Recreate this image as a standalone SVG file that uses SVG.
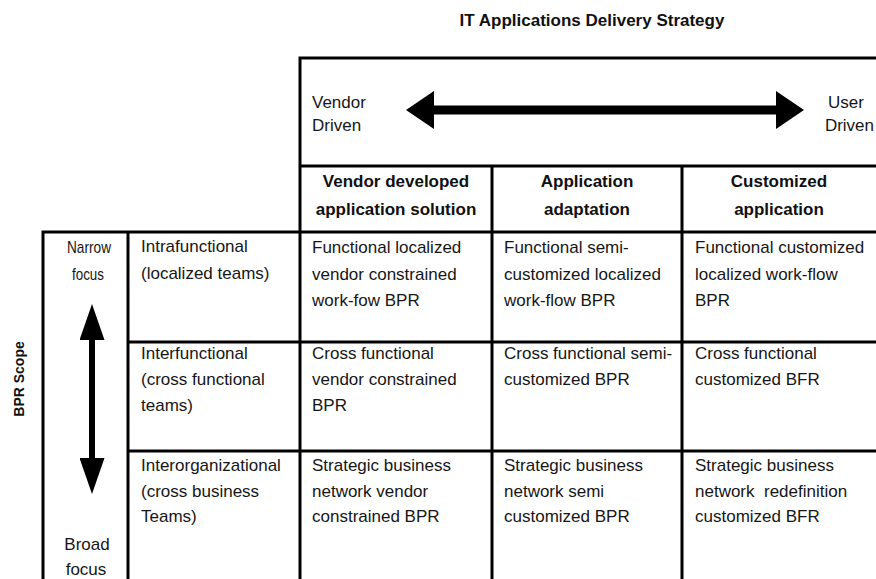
<svg xmlns="http://www.w3.org/2000/svg" width="876" height="579" viewBox="0 0 876 579">
<style>
  text { font-family: "Liberation Sans", Arial, sans-serif; fill: #161616; }
  .t { font-size: 17px; }
  .h { font-size: 17px; font-weight: bold; text-anchor: middle; fill: #111; }
  .ttl { font-size: 17px; font-weight: bold; text-anchor: middle; fill: #111; }
  .lbl { font-size: 17px; text-anchor: middle; }
  .grid { stroke: #000; stroke-width: 3; fill: none; }
  .arrowH { stroke: #000; stroke-width: 9; fill: none; }
  .arrowV { stroke: #000; stroke-width: 6; fill: none; }
</style>
<defs>
  <marker id="headH" markerUnits="userSpaceOnUse" viewBox="0 0 28 38" markerWidth="28" markerHeight="38" refX="2" refY="19" orient="auto-start-reverse">
    <path d="M0,0 L28,19 L0,38 z" fill="#000"/>
  </marker>
  <marker id="headV" markerUnits="userSpaceOnUse" viewBox="0 0 36 25" markerWidth="36" markerHeight="25" refX="2" refY="12.5" orient="auto-start-reverse">
    <path d="M0,0 L36,12.5 L0,25 z" fill="#000"/>
  </marker>
</defs>
<rect width="876" height="579" fill="#fff"/>

<g id="title">
  <text class="ttl" x="592" y="26">IT Applications Delivery Strategy</text>
</g>

<g id="frame">
  <path class="grid" d="M300,579 V58 H876"/>
  <path class="grid" d="M300,166 H876"/>
  <path class="grid" d="M43,579 V232 H876"/>
  <path class="grid" d="M128,232 V579"/>
  <path class="grid" d="M492,166 V579 M682,166 V579"/>
  <path class="grid" d="M128,342 H876 M128,451 H876"/>
</g>

<g id="scope-label">
  <text transform="translate(24,379) rotate(-90)" style="font-size:14px;font-weight:bold;text-anchor:middle;fill:#111">BPR Scope</text>
</g>

<g id="vendor-driven">
  <text class="t" x="312" y="108">Vendor</text>
  <text class="t" x="312" y="131">Driven</text>
</g>
<g id="user-driven">
  <text class="t" x="864" y="108" text-anchor="end">User</text>
  <text class="t" x="874" y="131" text-anchor="end">Driven</text>
</g>

<g id="hdr-vendor">
  <text class="h" x="396" y="187">Vendor developed</text>
  <text class="h" x="396" y="215">application solution</text>
</g>
<g id="hdr-adapt">
  <text class="h" x="587" y="187">Application</text>
  <text class="h" x="587" y="215">adaptation</text>
</g>
<g id="hdr-custom">
  <text class="h" x="779" y="187">Customized</text>
  <text class="h" x="779" y="215">application</text>
</g>

<g id="narrow-focus">
  <text class="lbl" x="89" y="253" textLength="44" lengthAdjust="spacingAndGlyphs">Narrow</text>
  <text class="lbl" x="88" y="280" textLength="32" lengthAdjust="spacingAndGlyphs">focus</text>
</g>
<g id="broad-focus">
  <text class="lbl" x="87" y="550">Broad</text>
  <text class="lbl" x="86" y="575">focus</text>
</g>

<g id="row-intra">
  <text class="t" x="141" y="252">Intrafunctional</text>
  <text class="t" x="141" y="279">(localized teams)</text>
</g>
<g id="row-inter">
  <text class="t" x="141" y="359">Interfunctional</text>
  <text class="t" x="141" y="385">(cross functional</text>
  <text class="t" x="141" y="411">teams)</text>
</g>
<g id="row-interorg">
  <text class="t" x="141" y="471">Interorganizational</text>
  <text class="t" x="141" y="497">(cross business</text>
  <text class="t" x="141" y="522">Teams)</text>
</g>

<g id="c11">
  <text class="t" x="312" y="253">Functional localized</text>
  <text class="t" x="312" y="280">vendor constrained</text>
  <text class="t" x="312" y="306">work-fow BPR</text>
</g>
<g id="c12">
  <text class="t" x="504" y="253">Functional semi-</text>
  <text class="t" x="504" y="280">customized localized</text>
  <text class="t" x="504" y="306">work-flow BPR</text>
</g>
<g id="c13">
  <text class="t" x="695" y="253">Functional customized</text>
  <text class="t" x="695" y="280">localized work-flow</text>
  <text class="t" x="695" y="306">BPR</text>
</g>

<g id="c21">
  <text class="t" x="312" y="359">Cross functional</text>
  <text class="t" x="312" y="385">vendor constrained</text>
  <text class="t" x="312" y="411">BPR</text>
</g>
<g id="c22">
  <text class="t" x="504" y="359">Cross functional semi-</text>
  <text class="t" x="504" y="385">customized BPR</text>
</g>
<g id="c23">
  <text class="t" x="695" y="359">Cross functional</text>
  <text class="t" x="695" y="385">customized BFR</text>
</g>

<g id="c31">
  <text class="t" x="312" y="471">Strategic business</text>
  <text class="t" x="312" y="497">network vendor</text>
  <text class="t" x="312" y="522">constrained BPR</text>
</g>
<g id="c32">
  <text class="t" x="504" y="471">Strategic business</text>
  <text class="t" x="504" y="497">network semi</text>
  <text class="t" x="504" y="522">customized BPR</text>
</g>
<g id="c33">
  <text class="t" x="695" y="471">Strategic business</text>
  <text class="t" x="695" y="497" xml:space="preserve">network  redefinition</text>
  <text class="t" x="695" y="522">customized BFR</text>
</g>

<g id="connectors">
  <line class="arrowH" x1="432" y1="110" x2="778" y2="110" marker-start="url(#headH)" marker-end="url(#headH)"/>
  <line class="arrowV" x1="92" y1="338" x2="92" y2="460" marker-start="url(#headV)" marker-end="url(#headV)"/>
</g>
</svg>
